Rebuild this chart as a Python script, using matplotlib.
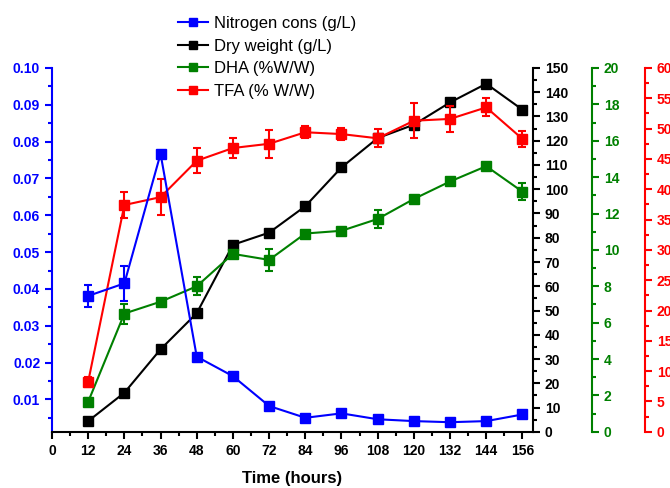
import numpy as np
import matplotlib.pyplot as plt
from matplotlib.lines import Line2D
from matplotlib.ticker import MultipleLocator

plt.rcParams['font.family'] = ['Liberation Sans', 'DejaVu Sans']

# data
hours = [12, 24, 36, 48, 60, 72, 84, 96, 108, 120, 132, 144, 156]
nitrogen = [0.0381, 0.0415, 0.0767, 0.0216, 0.0163, 0.0082, 0.0050, 0.0062, 0.0046, 0.0041, 0.0038, 0.0041, 0.0059]
nitrogen_err = [0.003, 0.0048, 0, 0, 0, 0, 0, 0, 0, 0, 0, 0, 0.0005]
dry_weight = [4.4, 16.1, 34.0, 48.9, 77.1, 82.1, 93.0, 109.0, 121.1, 126.6, 135.8, 143.5, 132.8]
dha = [1.65, 6.5, 7.15, 8.0, 9.78, 9.45, 10.9, 11.05, 11.7, 12.8, 13.76, 14.6, 13.2]
dha_err = [0.2, 0.55, 0.15, 0.5, 0.15, 0.6, 0.15, 0.15, 0.5, 0.15, 0.15, 0.2, 0.45]
tfa = [8.25, 37.4, 38.7, 44.7, 46.8, 47.5, 49.4, 49.1, 48.4, 51.3, 51.6, 53.5, 48.3]
tfa_err = [0.8, 2.1, 3.0, 2.1, 1.7, 2.3, 1.0, 1.0, 1.5, 2.9, 2.1, 1.5, 1.3]

BLUE, BLACK, GREEN, RED = '#0000ff', '#000000', '#008000', '#ff0000'

fig = plt.figure(figsize=(6.7, 4.88), dpi=100)
ax = fig.add_axes([0.0776, 0.1152, 0.7179, 0.7455])
ax2 = ax.twinx()
ax3 = ax.twinx()
ax4 = ax.twinx()
ax3.spines['right'].set_position(('axes', 1.123))
ax4.spines['right'].set_position(('axes', 1.233))

def style(a, color, side):
    for s in a.spines.values():
        s.set_linewidth(1.5)
    a.spines['top'].set_visible(False)
    a.spines[side].set_color(color)
    a.tick_params(axis='y', which='both', colors=color, width=1.5, direction='out')
    a.tick_params(axis='y', which='major', length=5, labelsize=10)
    a.tick_params(axis='y', which='minor', length=3)
    for lab in a.get_yticklabels():
        lab.set_fontweight('bold')

kw = dict(marker='s', markersize=7, linewidth=1.5, capsize=3, elinewidth=1.5, capthick=1.5)

ax4.errorbar(hours, tfa, yerr=tfa_err, color=RED, **kw)
ax3.errorbar(hours, dha, yerr=dha_err, color=GREEN, **kw)
ax2.plot(hours, dry_weight, color=BLACK, marker='s', markersize=7, linewidth=1.5)
ax.errorbar(hours, nitrogen, yerr=nitrogen_err, color=BLUE, **kw)

ax.set_zorder(ax4.get_zorder() + 1)
ax.patch.set_visible(False)

ax.set_xlim(0, 159.5)
ax.set_ylim(0.0012, 0.10)
ax2.set_ylim(0, 150)
ax3.set_ylim(0, 20)
ax4.set_ylim(0, 60)

ax.xaxis.set_major_locator(MultipleLocator(12))
ax.xaxis.set_minor_locator(MultipleLocator(6))
ax.yaxis.set_major_locator(MultipleLocator(0.01))
ax.yaxis.set_minor_locator(MultipleLocator(0.005))
ax2.yaxis.set_major_locator(MultipleLocator(10))
ax2.yaxis.set_minor_locator(MultipleLocator(5))
ax3.yaxis.set_major_locator(MultipleLocator(2))
ax3.yaxis.set_minor_locator(MultipleLocator(1))
ax4.yaxis.set_major_locator(MultipleLocator(5))
ax4.yaxis.set_minor_locator(MultipleLocator(2.5))
ax.yaxis.set_major_formatter(plt.FuncFormatter(lambda v, p: '%.2f' % v))

style(ax, BLUE, 'left')
style(ax2, BLACK, 'right')
style(ax3, GREEN, 'right')
style(ax4, RED, 'right')
for a in (ax2, ax3, ax4):
    a.spines['left'].set_visible(False)
    a.spines['bottom'].set_visible(False)
ax.spines['right'].set_visible(False)

ax.tick_params(axis='x', which='both', direction='out', width=1.5, colors='black')
ax.tick_params(axis='x', which='major', length=5, labelsize=10)
ax.tick_params(axis='x', which='minor', length=3)
for lab in ax.get_xticklabels():
    lab.set_fontweight('bold')
ax.set_xlabel('Time (hours)', fontsize=12, fontweight='bold', labelpad=10)

handles = [Line2D([], [], color=c, marker='s', markersize=6, linewidth=1.5) for c in (BLUE, BLACK, GREEN, RED)]
labels = ['Nitrogen cons (g/L)', 'Dry weight (g/L)', 'DHA (%W/W)', 'TFA (% W/W)']
fig.legend(handles, labels, loc='upper left', bbox_to_anchor=(0.244, 0.998), frameon=False,
           fontsize=12, handlelength=1.8, handletextpad=0.35, labelspacing=0.46)

fig.savefig('out.png', dpi=100)
